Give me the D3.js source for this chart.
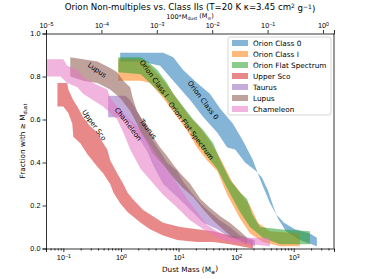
<!DOCTYPE html>
<html lang="en">
<head>
<meta charset="UTF-8">
<title>Orion Non-multiples vs. Class IIs</title>
<style>
  body, html { margin: 0; padding: 0; background: #fff; overflow: hidden; }
  svg { display: block; font-family: "DejaVu Sans", sans-serif; }
  .tick text { font-size: 7.3px; fill: #000; }
  .domain { stroke: #000; stroke-width: 0.8; }
  .tick line { stroke: #000; stroke-width: 0.8; }
</style>
</head>
<body>
<svg width="372" height="279"></svg>
<script src="https://d3js.org/d3.v7.min.js"></script>
<script>
// series names and colours (matplotlib tab10)
const names = ["Orion Class 0", "Orion Class I", "Orion Flat Spectrum", "Upper Sco", "Taurus", "Lupus", "Chameleon"];
const colors = ["#1f77b4", "#ff7f0e", "#2ca02c", "#d62728", "#9467bd", "#8c564b", "#e377c2"];

// band edges: [dust mass (M_earth), fraction with >= M]
const class0Hi = [[0.97,0.91],[3.2,0.91],[5.4,0.91],[8.1,0.89],[12,0.83],[21,0.77],[35,0.72],[53,0.65],[88,0.58],[132,0.50],[196,0.41],[230,0.36],[281,0.30],[387,0.21],[492,0.16],[676,0.12],[1050,0.09],[1910,0.07],[2520,0.05]];
const class0Lo = [[0.97,0.87],[2.2,0.87],[4.8,0.85],[8.1,0.78],[16,0.69],[27,0.61],[47,0.54],[70,0.47],[96,0.46],[143,0.40],[221,0.36],[281,0.33],[357,0.27],[436,0.20],[532,0.14],[733,0.08],[1280,0.04],[2520,0.01]];

const class1Hi = [[0.90,0.88],[2.2,0.88],[3.2,0.85],[4.8,0.80],[7.2,0.74],[11,0.67],[16,0.61],[24,0.56],[35,0.50],[53,0.42],[85,0.31],[127,0.25],[174,0.20],[240,0.12],[387,0.08],[1280,0.07]];
const class1Lo = [[0.90,0.78],[2.2,0.78],[3.2,0.77],[5.4,0.70],[9.5,0.61],[14,0.55],[21,0.47],[31,0.41],[47,0.36],[70,0.25],[117,0.14],[174,0.07],[293,0.03],[577,0.01],[1280,0.01]];

const flatHi = [[0.90,0.89],[2.2,0.89],[2.9,0.87],[4.3,0.83],[6.3,0.77],[8.1,0.72],[12,0.66],[18,0.60],[27,0.55],[40,0.49],[53,0.41],[78,0.32],[117,0.26],[155,0.23],[189,0.16],[260,0.10],[577,0.09],[1910,0.08]];
const flatLo = [[0.90,0.82],[2.2,0.81],[3.2,0.77],[5.4,0.71],[9.5,0.63],[14,0.57],[21,0.50],[31,0.43],[47,0.37],[70,0.28],[117,0.17],[174,0.10],[293,0.05],[577,0.02],[1910,0.02]];

const uscoHi = [[0.079,0.77],[0.117,0.77],[0.122,0.74],[0.149,0.69],[0.175,0.66],[0.22,0.61],[0.29,0.57],[0.39,0.54],[0.49,0.49],[0.58,0.46],[0.65,0.41],[0.86,0.35],[1.1,0.30],[1.3,0.26],[1.6,0.23],[2.4,0.18],[3.6,0.15],[5.4,0.12],[10.7,0.10],[21,0.09],[40,0.08],[78,0.06],[196,0.04]];
const uscoLo = [[0.079,0.66],[0.10,0.66],[0.122,0.63],[0.143,0.58],[0.149,0.52],[0.197,0.49],[0.26,0.44],[0.39,0.38],[0.49,0.35],[0.65,0.30],[0.74,0.26],[0.97,0.21],[1.3,0.17],[2.2,0.12],[3.2,0.09],[5.4,0.06],[9.5,0.04],[21,0.03],[40,0.03],[78,0.02],[196,0.00]];

const taurusHi = [[0.60,0.71],[1.2,0.71],[1.45,0.69],[1.8,0.65],[2.2,0.61],[2.9,0.55],[3.6,0.50],[4.8,0.45],[6.3,0.40],[9.5,0.36],[12,0.31],[18,0.25],[24,0.21],[35,0.17],[53,0.13],[78,0.10],[117,0.06],[213,0.04]];
const taurusLo = [[0.60,0.61],[1.2,0.61],[1.6,0.57],[2.2,0.50],[2.9,0.45],[3.6,0.39],[5.4,0.30],[9.5,0.24],[16,0.18],[27,0.12],[47,0.09],[78,0.05],[143,0.03],[213,0.01]];

const lupusHi = [[0.132,0.89],[0.22,0.88],[0.39,0.87],[0.65,0.84],[0.86,0.82],[1.1,0.78],[1.45,0.75],[1.6,0.70],[1.9,0.64],[2.2,0.61],[2.9,0.57],[3.6,0.52],[4.8,0.47],[6.3,0.43],[8.1,0.39],[10.7,0.35],[16,0.30],[24,0.23],[35,0.19],[53,0.15],[78,0.12],[117,0.08],[155,0.05]];
const lupusLo = [[0.132,0.80],[0.22,0.78],[0.39,0.77],[0.65,0.74],[0.97,0.70],[1.45,0.64],[1.9,0.58],[2.2,0.54],[2.9,0.49],[3.6,0.44],[5.4,0.39],[8.1,0.33],[12,0.28],[18,0.24],[27,0.18],[40,0.13],[53,0.10],[78,0.06],[155,0.02]];

const chamHi = [[0.051,0.88],[0.10,0.88],[0.117,0.85],[0.175,0.83],[0.22,0.80],[0.33,0.77],[0.58,0.74],[0.65,0.70],[0.86,0.66],[1.3,0.61],[1.9,0.57],[2.9,0.50],[4.3,0.43],[6.3,0.37],[9.5,0.30],[14,0.23],[21,0.17],[31,0.11],[47,0.08],[78,0.05],[387,0.05]];
const chamLo = [[0.051,0.80],[0.089,0.80],[0.117,0.77],[0.175,0.75],[0.22,0.72],[0.33,0.69],[0.49,0.66],[0.65,0.63],[0.86,0.60],[1.1,0.54],[1.45,0.46],[2.2,0.37],[3.2,0.32],[5.4,0.25],[9.5,0.19],[16,0.13],[27,0.09],[47,0.05],[78,0.03],[387,0.01]];

// in-plot labels: [mass, fraction, angle]
const labelPos = [[26.7,0.69,53],[3.78,0.79,54],[16.5,0.547,53],[0.344,0.574,54],[2.97,0.556,52],[0.388,0.83,35],[1.34,0.579,53]];

const bottomTicks = [0.1, 1, 10, 100, 1000];
const bottomExp = ["\u22121", "0", "1", "2", "3"];
const topTicks = [1e-5, 1e-4, 1e-3, 1e-2, 1e-1, 1];
const topExp = ["\u22125", "\u22124", "\u22123", "\u22122", "\u22121", "0"];
const yTicks = [0, 0.2, 0.4, 0.6, 0.8, 1.0];

const bands = [
  [class0Hi, class0Lo], [class1Hi, class1Lo], [flatHi, flatLo],
  [uscoHi, uscoLo], [taurusHi, taurusLo], [lupusHi, lupusLo], [chamHi, chamLo]
];

const svg = d3.select("svg");
const margin = { top: 33.5, right: 38, bottom: 30.5, left: 46 };
const width = 372, height = 279;

const x = d3.scaleLog().domain([0.05, 5000]).range([margin.left, width - margin.right]);
const xTop = d3.scaleLog().domain([1e-5, 1.58]).range([margin.left, width - margin.right]);
const y = d3.scaleLinear().domain([0, 1]).range([height - margin.bottom, margin.top]);

// bands
const line = d3.line().x(d => x(d[0])).y(d => y(d[1]));
svg.append("g").selectAll("path")
  .data(bands)
  .enter().append("path")
  .attr("d", d => line(d[0].concat(d[1].slice().reverse())) + "Z")
  .attr("fill", (d, i) => colors[i])
  .attr("fill-opacity", 0.55);

// labels on curves
svg.append("g").selectAll("text")
  .data(labelPos)
  .enter().append("text")
  .attr("transform", d => `translate(${x(d[0])},${y(d[1])}) rotate(${d[2]})`)
  .attr("text-anchor", "middle")
  .attr("dy", "0.35em")
  .style("font-size", "7px")
  .text((d, i) => names[i]);

// power-of-ten tick labels
function powLabel(sel, exps) {
  sel.selectAll(".tick text").each(function (d, i) {
    const t = d3.select(this).text("");
    t.append("tspan").text("10");
    t.append("tspan").attr("dy", "-0.45em").style("font-size", "5.2px").text(exps[i]);
  });
}

// bottom axis
const minor = [];
for (let e = -2; e <= 3; e++) for (let k = 2; k <= 9; k++) {
  const v = k * Math.pow(10, e);
  if (v >= 0.05 && v <= 5000) minor.push(v);
}
svg.append("g")
  .attr("transform", `translate(0,${height - margin.bottom})`)
  .call(d3.axisBottom(x).tickValues(minor).tickSize(2).tickFormat(""))
  .call(g => g.select(".domain").remove());
const gx = svg.append("g")
  .attr("transform", `translate(0,${height - margin.bottom})`)
  .call(d3.axisBottom(x).tickValues(bottomTicks).tickSize(3.5).tickPadding(3));
powLabel(gx, bottomExp);

// top axis
const gt = svg.append("g")
  .attr("transform", `translate(0,${margin.top})`)
  .call(d3.axisTop(xTop).tickValues(topTicks).tickSize(3.5).tickPadding(2));
powLabel(gt, topExp);

// left axis
svg.append("g")
  .attr("transform", `translate(${margin.left},0)`)
  .call(d3.axisLeft(y).tickValues(yTicks).tickSize(3.5).tickPadding(2).tickFormat(d3.format(".1f")));

// right spine
svg.append("line")
  .attr("x1", width - margin.right).attr("x2", width - margin.right)
  .attr("y1", margin.top).attr("y2", height - margin.bottom)
  .attr("stroke", "#000").attr("stroke-width", 0.8);

// title and axis labels
svg.append("text").attr("x", 190).attr("y", 10).attr("text-anchor", "middle")
  .style("font-size", "8.6px")
  .html('Orion Non-multiples vs. Class IIs (T=20 K \u03ba=3.45 cm<tspan dy="-0.4em" font-size="6px">2</tspan><tspan dy="0.4em"> g</tspan><tspan dy="-0.4em" font-size="6px">\u22121</tspan><tspan dy="0.4em">)</tspan>');

svg.append("text").attr("x", 190).attr("y", 19).attr("text-anchor", "middle")
  .style("font-size", "6.5px")
  .html('100*M<tspan dy="0.3em" font-size="4.5px">dust</tspan><tspan dy="-0.3em"> (M</tspan><tspan dy="0.3em" font-size="4.5px">\u2299</tspan><tspan dy="-0.3em">)</tspan>');

svg.append("text").attr("x", 190).attr("y", 272).attr("text-anchor", "middle")
  .style("font-size", "7.3px")
  .html('Dust Mass (M<tspan dy="0.3em" font-size="5px">\u2295</tspan><tspan dy="-0.3em">)</tspan>');

svg.append("text").attr("transform", "translate(25,141) rotate(-90)").attr("text-anchor", "middle")
  .style("font-size", "7.3px")
  .html('Fraction with \u2265 M<tspan dy="0.3em" font-size="5px">dust</tspan>');

// legend
const leg = svg.append("g").attr("transform", "translate(228,37)");
leg.append("rect").attr("width", 103).attr("height", 78).attr("rx", 2)
  .attr("fill", "#fff").attr("fill-opacity", 0.8).attr("stroke", "#ccc").attr("stroke-width", 0.8);
const item = leg.selectAll(".item").data(names).enter().append("g")
  .attr("transform", (d, i) => `translate(0,${6 + i * 11})`);
item.append("rect").attr("x", 4).attr("y", -3).attr("width", 16).attr("height", 6)
  .attr("fill", (d, i) => colors[i]).attr("fill-opacity", 0.55);
item.append("text").attr("x", 25).attr("dy", "0.35em").style("font-size", "7.3px").text(d => d);
</script>
</body>
</html>
